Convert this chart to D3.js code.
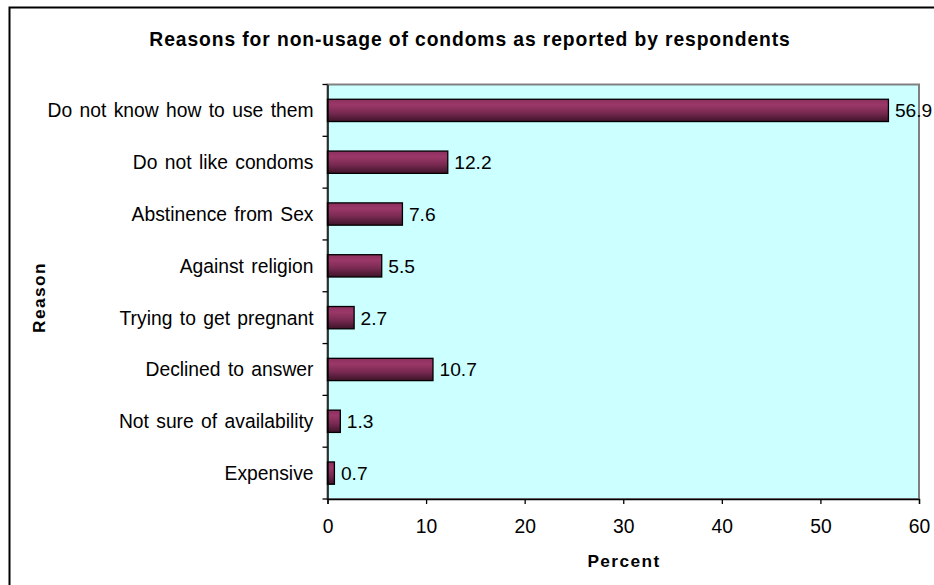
<!DOCTYPE html>
<html>
<head>
<meta charset="utf-8">
<script src="https://cdn.jsdelivr.net/npm/d3@7"></script>
<style>
  html, body { margin: 0; padding: 0; background: #fff; }
  svg { display: block; font-family: "Liberation Sans", Arial, sans-serif; }
</style>
</head>
<body>
<svg id="chart" width="934" height="585"></svg>
<script>
const categories = [
  "Do not know how to use them",
  "Do not like condoms",
  "Abstinence from Sex",
  "Against religion",
  "Trying to get pregnant",
  "Declined to answer",
  "Not sure of availability",
  "Expensive"
];
const values = [56.9, 12.2, 7.6, 5.5, 2.7, 10.7, 1.3, 0.7];
const xTicks = [0, 10, 20, 30, 40, 50, 60];
const title = "Reasons for non-usage of condoms as reported by respondents";
const xTitle = "Percent";
const yTitle = "Reason";

const svg = d3.select("#chart");
const W = 934, H = 585;
const plot = { left: 327.5, right: 919, top: 84.5, bottom: 499 };
const FONT = "Liberation Sans, Arial, sans-serif";

// outer chart border
svg.append("rect")
  .attr("x", 9.5).attr("y", 7.5)
  .attr("width", W + 10).attr("height", H + 10)
  .attr("fill", "#fff").attr("stroke", "#000").attr("stroke-width", 2);

const defs = svg.append("defs");
const grad = defs.append("linearGradient").attr("id", "barGrad")
  .attr("x1", 0).attr("y1", 0).attr("x2", 0).attr("y2", 1);
grad.append("stop").attr("offset", "0%").attr("stop-color", "#8c2f5e");
grad.append("stop").attr("offset", "25%").attr("stop-color", "#9b3869");
grad.append("stop").attr("offset", "60%").attr("stop-color", "#7a2a52");
grad.append("stop").attr("offset", "100%").attr("stop-color", "#3d1429");

const x = d3.scaleLinear().domain([0, 60]).range([plot.left, plot.right]);
const y = d3.scaleBand().domain(categories).range([plot.top, plot.bottom]).paddingInner(0.57).paddingOuter(0.285);
const yb = d3.scaleBand().domain(categories).range([plot.top, plot.bottom]);

// plot area
svg.append("rect")
  .attr("x", plot.left).attr("y", plot.top)
  .attr("width", plot.right - plot.left).attr("height", plot.bottom - plot.top)
  .attr("fill", "#ccffff").attr("stroke", "#808080").attr("stroke-width", 2);

// title
svg.append("text")
  .attr("x", 470).attr("y", 45.7)
  .attr("text-anchor", "middle")
  .attr("font-size", 19.3).attr("font-weight", "bold")
  .attr("letter-spacing", 0.9)
  .text(title);

// bars
svg.append("g").selectAll("rect").data(values).join("rect")
  .attr("x", x(0))
  .attr("y", (d, i) => y(categories[i]))
  .attr("width", d => x(d) - x(0))
  .attr("height", y.bandwidth())
  .attr("fill", "url(#barGrad)")
  .attr("stroke", "#000").attr("stroke-width", 1.3);

// value labels
svg.append("g").selectAll("text").data(values).join("text")
  .attr("x", d => x(d) + 6.5)
  .attr("y", (d, i) => yb(categories[i]) + yb.bandwidth() / 2)
  .attr("dy", "0.36em")
  .attr("font-size", 19.2)
  .text(d => d.toFixed(1));

// y axis
const yAxis = d3.axisLeft(yb).tickSize(0).tickPadding(14);
const gy = svg.append("g").attr("transform", `translate(${plot.left},0)`).call(yAxis);
gy.select(".domain").attr("stroke", "#000").attr("stroke-width", 1.3);
gy.selectAll("text").attr("font-size", 19.3).attr("fill", "#000").attr("font-family", FONT)
  .attr("dy", "0.36em").attr("word-spacing", 2);
// y tick marks at band boundaries
const bounds = categories.map(c => yb(c)).concat([plot.bottom]);
svg.append("g").selectAll("line").data(bounds).join("line")
  .attr("x1", plot.left - 5).attr("x2", plot.left)
  .attr("y1", d => d).attr("y2", d => d)
  .attr("stroke", "#000").attr("stroke-width", 1.3);

// x axis
const xAxis = d3.axisBottom(x).tickValues(xTicks).tickSize(5).tickPadding(15).tickFormat(d3.format("d"));
const gx = svg.append("g").attr("transform", `translate(0,${plot.bottom})`).call(xAxis);
gx.select(".domain").attr("stroke", "#000").attr("stroke-width", 1.3);
gx.selectAll(".tick line").attr("stroke", "#000").attr("stroke-width", 1.3);
gx.selectAll("text").attr("font-size", 19.3).attr("fill", "#000").attr("font-family", FONT);

// axis titles
svg.append("text")
  .attr("x", 624).attr("y", 566.7)
  .attr("text-anchor", "middle")
  .attr("font-size", 17.3).attr("font-weight", "bold")
  .attr("letter-spacing", 1.4)
  .text(xTitle);

svg.append("text")
  .attr("transform", `translate(45,297.5) rotate(-90)`)
  .attr("text-anchor", "middle")
  .attr("font-size", 17.3).attr("font-weight", "bold")
  .attr("letter-spacing", 1.4)
  .text(yTitle);
</script>
</body>
</html>
